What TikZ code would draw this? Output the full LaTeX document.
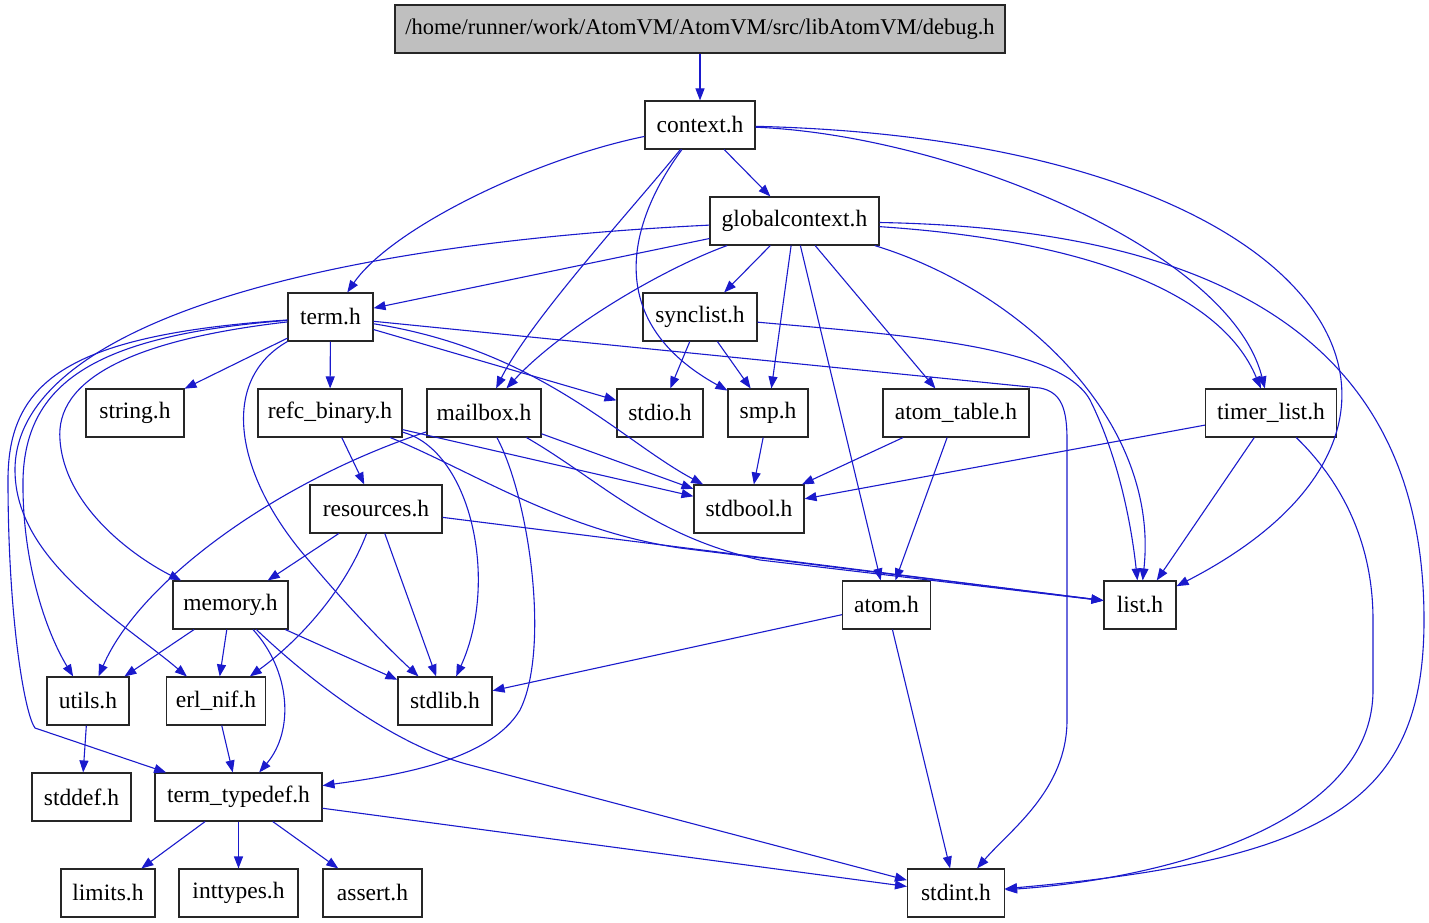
\documentclass[tikz,border=0pt]{standalone}
\usepackage{fontspec}
\setmainfont{Liberation Serif}
\usetikzlibrary{arrows.meta}
\definecolor{depblue}{RGB}{26,26,204}
\definecolor{rootgray}{RGB}{191,191,191}

\tikzset{
  hfile/.style={draw=black!85, line width=1.1pt, fill=white, minimum height=48,
    inner xsep=2pt, inner ysep=0pt, font=\fontsize{23.5}{28}\selectfont},
  rootfile/.style={hfile, fill=rootgray, font=\fontsize{22.5}{27}\selectfont},
  dep/.style={draw=depblue, line width=1.1pt, -{Triangle[length=12pt,width=9pt]}},
}

\begin{document}
\begin{tikzpicture}[x=1pt, y=-1pt]
  \useasboundingbox (0,0) rectangle (1429,923);

  % header files
  \node[rootfile, minimum width=610] (debug) at (700,29) {/home/runner/work/AtomVM/AtomVM/src/libAtomVM/debug.h};
  \foreach \nm/\lab/\cx/\cy/\w in {
      context/context.h/700/125/110, globalcontext/globalcontext.h/794.5/221/169,
      term/term.h/330.5/317/85, synclist/synclist.h/700/317/114,
      string/string.h/135/413/98, refc/refc\_binary.h/330/413/144,
      mailbox/mailbox.h/484/413/114, stdio/stdio.h/660/413/86,
      smp/smp.h/768/413/80, atomtable/atom\_table.h/956/413/146,
      timerlist/timer\_list.h/1271/413/131, resources/resources.h/376/509/132,
      stdbool/stdbool.h/749/509/110, memory/memory.h/230.5/605/115,
      atom/atom.h/886.5/605/88, list/list.h/1140/605/72,
      utils/utils.h/88/701/82, erlnif/erl\_nif.h/216/701/99,
      stdlib/stdlib.h/445/701/94, stddef/stddef.h/81.5/797/99,
      termtypedef/term\_typedef.h/238.5/797/167, limits/limits.h/108/893/94,
      inttypes/inttypes.h/238.5/893/119, assert/assert.h/372.5/893/99,
      stdint/stdint.h/956/893/97}
    \node[hfile, minimum width=\w] (\nm) at (\cx,\cy) {\lab};

  % straight includes
  \foreach \a/\b in {debug/context, context/globalcontext, globalcontext/term,
      globalcontext/synclist, globalcontext/smp, globalcontext/atom,
      globalcontext/atomtable, term/string, term/refc, term/stdio,
      synclist/stdio, synclist/smp, refc/resources, refc/stdbool,
      mailbox/stdbool, smp/stdbool, atomtable/stdbool, atomtable/atom,
      timerlist/stdbool, timerlist/list, resources/memory, resources/stdlib,
      resources/list, memory/utils, memory/erlnif, memory/stdlib,
      atom/stdlib, atom/stdint, utils/stddef, erlnif/termtypedef,
      termtypedef/limits, termtypedef/inttypes, termtypedef/assert,
      termtypedef/stdint}
    \draw[dep] (\a) -- (\b);

  % curved includes
  \draw[dep] (context) .. controls (530,160) and (390,230) .. (term);
  \draw[dep] (context) .. controls (640,200) and (530,320) .. (mailbox);
  \draw[dep] (context) .. controls (630,220) and (600,320) .. (smp);
  \draw[dep] (context) .. controls (950,135) and (1230,250) .. (timerlist);
  \draw[dep] (context) .. controls (1330,140) and (1500,420) .. (list);

  \draw[dep] (globalcontext) .. controls (300,245) and (15,330) .. (15,470)
    .. controls (15,560) and (120,620) .. (erlnif);
  \draw[dep] (globalcontext) .. controls (660,270) and (560,330) .. (mailbox);
  \draw[dep] (globalcontext) .. controls (1020,290) and (1160,420) .. (list);
  \draw[dep] (globalcontext) .. controls (1080,240) and (1220,290) .. (timerlist);
  \draw[dep] (globalcontext) .. controls (1300,230) and (1424,400) .. (1424,620)
    .. controls (1424,800) and (1330,860) .. (stdint);

  \draw[dep] (term) .. controls (540,350) and (620,440) .. (stdbool);
  \draw[dep] (term) -- (1040,388) .. controls (1062,392) and (1067,410) .. (1067,440)
    -- (1067,720) .. controls (1067,790) and (1010,830) .. (stdint);
  \draw[dep] (term) .. controls (220,380) and (235,470) .. (300,550)
    .. controls (350,610) and (390,650) .. (stdlib);
  \draw[dep] (term) .. controls (130,340) and (55,380) .. (60,440)
    .. controls (65,510) and (140,560) .. (memory);
  \draw[dep] (term) .. controls (100,335) and (25,380) .. (23,480)
    .. controls (22,560) and (45,630) .. (utils);
  \draw[dep] (term) .. controls (70,335) and (8,380) .. (8,480)
    .. controls (8,620) and (25,715) .. (35,728) -- (termtypedef);

  \draw[dep] (synclist) .. controls (900,335) and (1060,345) .. (1090,400)
    .. controls (1120,460) and (1132,530) .. (list);
  \draw[dep] (refc) .. controls (470,450) and (500,580) .. (stdlib);
  \draw[dep] (refc) .. controls (470,470) and (560,530) .. (680,548) -- (list);
  \draw[dep] (mailbox) .. controls (600,480) and (650,535) .. (760,560) -- (list);
  \draw[dep] (mailbox) .. controls (280,480) and (140,580) .. (utils);
  \draw[dep] (mailbox) .. controls (530,500) and (550,650) .. (520,710)
    .. controls (490,760) and (400,775) .. (termtypedef);
  \draw[dep] (timerlist) .. controls (1340,480) and (1373,540) .. (1373,620)
    -- (1373,690) .. controls (1373,830) and (1150,880) .. (stdint);
  \draw[dep] (resources) .. controls (345,590) and (300,640) .. (erlnif);
  \draw[dep] (memory) .. controls (290,670) and (295,730) .. (termtypedef);
  \draw[dep] (memory) .. controls (320,690) and (400,747) .. (470,765) -- (stdint);
\end{tikzpicture}
\end{document}
